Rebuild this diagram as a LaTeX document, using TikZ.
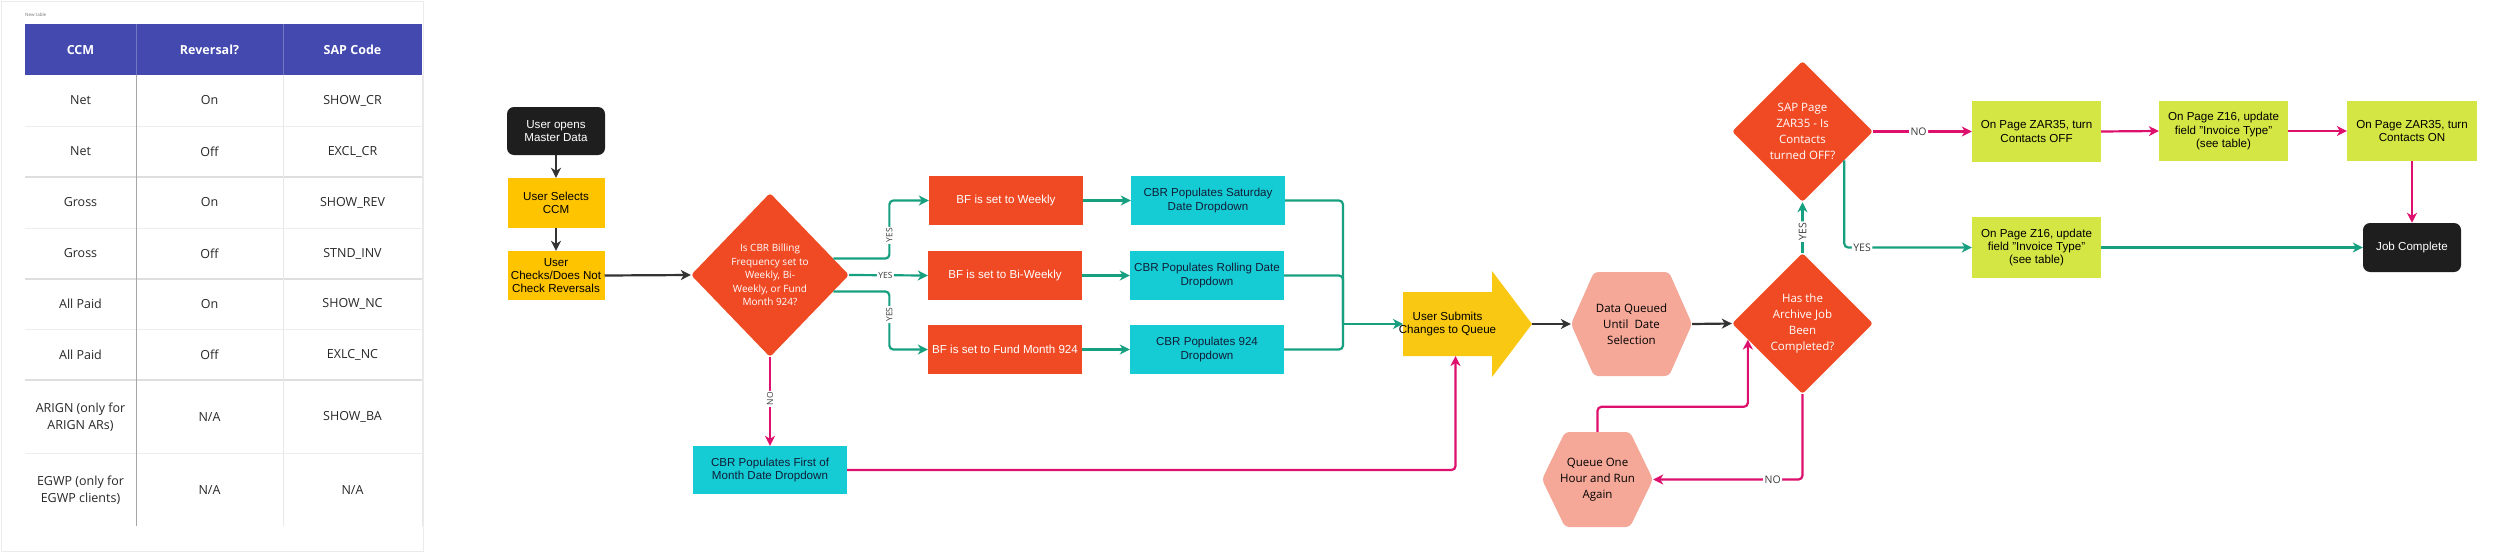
\documentclass[tikz,border=0pt]{standalone}
\usepackage{fontspec}
\setmainfont{Liberation Sans}
\newfontfamily\osf{Open Sans}
\usetikzlibrary{shapes.geometric,arrows.meta,calc}

\definecolor{hdr}{RGB}{67,73,175}
\definecolor{redo}{RGB}{240,74,36}
\definecolor{cyanb}{RGB}{22,204,212}
\definecolor{yel}{RGB}{255,196,0}
\definecolor{yelarr}{RGB}{248,200,18}
\definecolor{limeb}{RGB}{212,230,68}
\definecolor{salm}{RGB}{245,168,152}
\definecolor{tealc}{RGB}{22,160,128}
\definecolor{pinkc}{RGB}{222,16,110}
\definecolor{darkc}{RGB}{51,51,51}
\definecolor{blk}{RGB}{30,30,30}
\definecolor{navyt}{RGB}{16,30,56}
\definecolor{labc}{RGB}{60,60,60}
\definecolor{celltxt}{RGB}{40,40,40}

\tikzset{
  box/.style={rectangle, align=center, inner sep=2pt, font=\fontsize{11.6}{13.2}\selectfont},
  blkbox/.style={box, fill=blk, text=white, rounded corners=7pt, minimum width=98pt, minimum height=48pt},
  ybox/.style={box, fill=yel, text=black, minimum width=97pt, minimum height=49pt},
  rbox/.style={box, fill=redo, text=white, minimum width=154pt, minimum height=49pt},
  cbox/.style={box, fill=cyanb, text=navyt, minimum width=154pt, minimum height=49pt},
  lbox/.style={box, fill=limeb, text=black, minimum width=129pt, minimum height=61pt},
  subtext/.style={box, text=black, inner sep=0pt},
  dia/.style={diamond, fill=redo, text=white, align=center, inner sep=0pt, rounded corners=3pt},
  hexa/.style={rectangle, align=center, inner sep=0pt, fill=white, text=black,
    font=\osf\fontsize{11.5}{16}\selectfont,
    path picture={\fill[salm, rounded corners=4pt]
      (path picture bounding box.west) -- ([xshift=23pt]path picture bounding box.north west)
      -- ([xshift=-23pt]path picture bounding box.north east) -- (path picture bounding box.east)
      -- ([xshift=-23pt]path picture bounding box.south east) -- ([xshift=23pt]path picture bounding box.south west) -- cycle;}},
  conn/.style={line width=2.2pt, rounded corners=4pt},
  arr/.style={conn, -{Stealth[length=10pt,width=10pt,inset=3pt]}},
  tarr/.style={arr, draw=tealc, color=tealc},
  parr/.style={arr, draw=pinkc, color=pinkc},
  darr/.style={arr, draw=darkc, color=darkc},
  tline/.style={conn, draw=tealc},
  lab/.style={fill=white, inner sep=1.5pt, text=labc, font=\osf\fontsize{10.5}{12}\selectfont},
  slab/.style={lab, font=\osf\fontsize{8.5}{10}\selectfont},
  tcell/.style={align=center, text=celltxt, font=\osf\fontsize{12.5}{17}\selectfont},
  thead/.style={align=center, text=white, font=\osf\bfseries\fontsize{12.5}{15}\selectfont},
}

\begin{document}
\begin{tikzpicture}[x=1pt,y=-1pt]
\useasboundingbox (0,0) rectangle (2500,552);
\fill[white] (0,0) rectangle (2500,552);

% ---------------- table ----------------
\draw[black!8, line width=0.8pt] (1,1) rectangle (423,551);
\node[anchor=west, text=black!55, font=\osf\fontsize{4.5}{5}\selectfont, inner sep=0pt] (ttitle) at (25,15) {New table};
\fill[hdr] (25,24) rectangle (422,75);
\draw[hdr!75!white, line width=0.8pt] (136,24) -- (136,75) (283,24) -- (283,75);
\foreach \yy in {126,228,329,453} \draw[black!7, line width=1pt] (25,\yy) -- (422,\yy);
\foreach \yy in {177,279,380} \draw[black!13, line width=1.6pt] (25,\yy) -- (422,\yy);
\draw[black!35, line width=0.9pt] (136,75) -- (136,526);
\draw[black!9, line width=0.9pt] (283,75) -- (283,526);
\draw[black!9, line width=0.9pt] (422,75) -- (422,526);

\node[thead] (h1) at (80.5,50) {CCM};
\node[thead] (h2) at (209.5,50) {Reversal?};
\node[thead] (h3) at (352.5,50) {SAP Code};

\foreach \n/\yy/\a/\b/\c in {
  1/100.5/Net/On/SHOW\_CR,
  2/151.5/Net/Off/EXCL\_CR,
  3/202.5/Gross/On/SHOW\_REV,
  4/253.5/Gross/Off/STND\_INV,
  5/304/All Paid/On/SHOW\_NC,
  6/355/All Paid/Off/EXLC\_NC,
  7/417/{ARIGN (only for\\ARIGN ARs)}/N\slash A/SHOW\_BA,
  8/490/{EGWP (only for\\EGWP clients)}/N\slash A/N\slash A}{
  \node[tcell] (ca\n) at (80.5,\yy) {\a};
  \node[tcell] (cb\n) at (209.5,\yy) {\b};
  \node[tcell] (cc\n) at (352.5,\yy) {\c};
}

% ---------------- flowchart nodes ----------------
\node[blkbox] (open) at (556,131) {User opens\\Master Data};
\node[ybox, minimum height=50pt] (sel) at (556,203) {User Selects\\CCM};
\node[ybox] (chk) at (556,275.5) {User\\Checks/Does Not\\Check Reversals};
\node[dia, minimum width=158pt, minimum height=164pt, font=\osf\fontsize{10}{13.5}\selectfont] (d1) at (770,275)
  {Is CBR Billing\\Frequency set to\\Weekly, Bi-\\Weekly, or Fund\\Month 924?};

\node[rbox] (bfw) at (1006,200.5) {BF is set to Weekly};
\node[rbox] (bfb) at (1005,275.5) {BF is set to Bi-Weekly};
\node[rbox] (bff) at (1005,349.5) {BF is set to Fund Month 924};

\node[cbox] (csat) at (1208,200.5) {CBR Populates Saturday\\Date Dropdown};
\node[cbox] (crol) at (1207,275.5) {CBR Populates Rolling Date\\Dropdown};
\node[cbox] (c924) at (1207,349.5) {CBR Populates 924\\Dropdown};
\node[cbox, minimum height=48pt] (cfirst) at (770,470) {CBR Populates First of\\Month Date Dropdown};

% block arrow "User Submits Changes to Queue"
\coordinate (subc) at (1447.5,324);
\coordinate (subW) at ($(subc)+(-44.5,0)$);
\coordinate (subS) at ($(subc)+(8,32)$);
\coordinate (subtip) at ($(subc)+(84.5,0)$);
\fill[yelarr] ($(subc)+(-44.5,-32)$) -- ($(subc)+(44.5,-32)$) -- ($(subc)+(44.5,-53)$) -- (subtip)
  -- ($(subc)+(44.5,53)$) -- ($(subc)+(44.5,32)$) -- ($(subc)+(-44.5,32)$) -- cycle;
\node[subtext] (sub) at (subc) {User Submits\\Changes to Queue};

\node[hexa, minimum width=121pt, minimum height=104pt] (dq) at (1631.5,324) {Data Queued\\Until\ \ Date\\Selection};
\node[hexa, minimum width=111pt, minimum height=95pt] (q1) at (1597.5,479.5) {Queue One\\Hour and Run\\Again};

\node[dia, minimum width=141pt, minimum height=141pt, font=\osf\fontsize{11.5}{16}\selectfont] (d2) at (1802.5,323.5)
  {Has the\\Archive Job\\Been\\Completed?};
\node[dia, minimum width=141pt, minimum height=141pt, font=\osf\fontsize{11.5}{16}\selectfont] (d3) at (1802.5,131.5)
  {SAP Page\\ZAR35 - Is\\Contacts\\turned OFF?};

\node[lbox] (zoff) at (2036.5,131.5) {On Page ZAR35, turn\\Contacts OFF};
\node[lbox, minimum height=60pt] (z16a) at (2223.5,131) {On Page Z16, update\\field "Invoice Type"\\(see table)};
\node[lbox, minimum width=130pt, minimum height=60pt] (zon) at (2412,131) {On Page ZAR35, turn\\Contacts ON};
\node[lbox] (z16b) at (2036.5,247.5) {On Page Z16, update\\field "Invoice Type"\\(see table)};
\node[blkbox, minimum height=49pt] (done) at (2412,247.5) {Job Complete};

% ---------------- connectors ----------------
\draw[darr] (open.south) -- (sel.north);
\draw[darr] (sel.south) -- (chk.north);
\draw[darr] (chk.east) -- (d1.west);

\draw[tarr] ($(d1.east)!0.2!(d1.north)$) -- ++(56,0) |- node[slab, rotate=90, pos=0.2] (ly1) {YES} (bfw.west);
\draw[tarr] (d1.east) -- node[slab, pos=0.46] (ly2) {YES} (bfb.west);
\draw[tarr] ($(d1.east)!0.2!(d1.south)$) -- ++(56,0) |- node[slab, rotate=90, pos=0.2] (ly3) {YES} (bff.west);

\draw[tarr] (bfw.east) -- (csat.west);
\draw[tarr] (bfb.east) -- (crol.west);
\draw[tarr] (bff.east) -- (c924.west);

\coordinate (mj) at ($(subW)+(-60,0)$);
\draw[tline] (csat.east) -| (mj);
\draw[tline] (c924.east) -| (mj);
\draw[tline] (crol.east) -| (mj);
\draw[tarr] (mj) -- (subW);

\draw[parr] (d1.south) -- node[slab, rotate=90, pos=0.47] (ln1) {NO} (cfirst.north);
\draw[parr] (cfirst.east) -| (subS);

\draw[darr] (subtip) -- (dq.west);
\draw[darr] (dq.east) -- (d2.west);

\draw[tarr] (d2.north) -- node[lab, rotate=90, pos=0.42] (ly4) {YES} (d3.south);
\draw[parr] (d3.east) -- node[lab, pos=0.46] (ln2) {NO} (zoff.west);
\draw[tarr] ($(d3.east)!0.41!(d3.south)$) |- node[lab, pos=0.57] (ly5) {YES} (z16b.west);

\draw[parr] (zoff.east) -- (z16a.west);
\draw[parr] (z16a.east) -- (zon.west);
\draw[parr] (zon.south) -- (done.north);
\draw[tarr] (z16b.east) -- (done.west);

\draw[parr] (d2.south) |- node[lab, pos=0.6] (ln3) {NO} (q1.east);
\draw[parr] (q1.north) -- ++(0,-25) -| ($(d2.west)!0.227!(d2.south)$);

\end{tikzpicture}
\end{document}
